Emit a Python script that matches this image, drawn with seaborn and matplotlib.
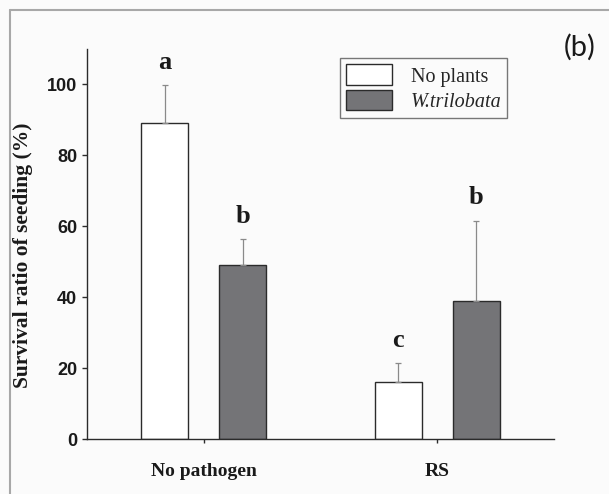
import numpy as np
import pandas as pd
import seaborn as sns
import matplotlib
matplotlib.use('Agg')
import matplotlib.pyplot as plt
from matplotlib.lines import Line2D

groups = ['No pathogen', 'RS']
treatments = ['No plants', 'W.trilobata']
no_plants_mean = [89.0, 16.0]
no_plants_sd = [10.8, 5.4]
wtril_mean = [49.0, 39.0]
wtril_sd = [7.3, 22.6]
no_plants_letters = ['a', 'c']
wtril_letters = ['b', 'b']
yticks = [0, 20, 40, 60, 80, 100]

df = pd.DataFrame({
    'group': groups * 2,
    'treatment': [treatments[0]] * 2 + [treatments[1]] * 2,
    'survival': no_plants_mean + wtril_mean,
    'sd': no_plants_sd + wtril_sd,
    'letter': no_plants_letters + wtril_letters,
})

sns.set_style('ticks')
plt.rcParams['font.family'] = ['Liberation Serif', 'DejaVu Serif']

bg = '#fbfbfb'
fig = plt.figure(figsize=(6.09, 4.94), dpi=100, facecolor=bg)
ax = fig.add_axes([87 / 609, 1 - 439 / 494, 467 / 609, 390 / 494])
ax.set_facecolor(bg)

sns.barplot(data=df, x='group', y='survival', hue='treatment',
            order=groups, hue_order=treatments,
            palette={'No plants': 'white', 'W.trilobata': '#737478'},
            width=0.667, gap=0.4, edgecolor='#2b2b2b', linewidth=1.0,
            errorbar=None, ax=ax)

# error bars (upper only) and significance letters
for cont, tr in zip(ax.containers, treatments):
    sub = df[df['treatment'] == tr].set_index('group')
    for bar in cont:
        xc = bar.get_x() + bar.get_width() / 2
        g = groups[int(round(xc))]
        m = sub.loc[g, 'survival']
        s = sub.loc[g, 'sd']
        ax.errorbar(xc, m, yerr=[[0], [s]], fmt='none', ecolor='#8a8a8a',
                    elinewidth=0.9, capsize=2.2, capthick=0.9, zorder=1)
        ax.text(xc, m + s + 6.5, sub.loc[g, 'letter'], ha='center', va='center',
                fontsize=19, fontweight='bold', color='#1a1a1a')

ax.set_xlim(-0.5, 1.5)
ax.set_ylim(0, 110)
ax.set_yticks(yticks)
ax.set_xlabel('')
ax.set_ylabel('Survival ratio of seeding (%)', fontsize=15.5, fontweight='bold',
              color='#1a1a1a')
ax.yaxis.set_label_coords(-0.116, 0.472)

sns.despine(ax=ax)
for sp in ['left', 'bottom']:
    ax.spines[sp].set_color('#2b2b2b')
    ax.spines[sp].set_linewidth(1.0)
ax.tick_params(axis='y', length=3.6, width=1.0, color='#2b2b2b', pad=3.4)
ax.tick_params(axis='x', length=3, width=1.0, color='#2b2b2b', pad=14)
for lab in ax.get_yticklabels():
    lab.set_family(['Liberation Sans', 'DejaVu Sans'])
    lab.set_fontweight('bold')
    lab.set_fontsize(13)
    lab.set_color('#1a1a1a')
for lab in ax.get_xticklabels():
    lab.set_fontweight('bold')
    lab.set_fontsize(14)
    lab.set_color('#1a1a1a')

# legend
old = ax.get_legend()
handles = old.legend_handles
labels = [t.get_text() for t in old.get_texts()]
old.remove()
for h in handles:
    h.set_edgecolor('#2b2b2b')
    h.set_linewidth(1.0)
leg = ax.legend(handles, labels, loc='upper left', bbox_to_anchor=(0.542, 0.976),
                borderaxespad=0, fontsize=14.5, frameon=True, fancybox=False,
                handlelength=2.3, handleheight=1.2, handletextpad=0.9,
                labelspacing=0.15, borderpad=0.3)
leg.get_frame().set_edgecolor('#777777')
leg.get_frame().set_linewidth(1.0)
leg.get_frame().set_facecolor(bg)
leg.get_frame().set_alpha(1)
leg.get_texts()[1].set_fontstyle('italic')

fig.text(580 / 609, 1 - 47 / 494, '(b)', fontsize=21, family=['Lato', 'DejaVu Sans'],
         ha='center', va='center', color='#1a1a1a')

# outer frame lines
fig.add_artist(Line2D([10 / 609, 10 / 609], [0, 1 - 10 / 494], transform=fig.transFigure,
                      color='#a8a8a8', lw=1.5))
fig.add_artist(Line2D([10 / 609, 1], [1 - 10 / 494, 1 - 10 / 494], transform=fig.transFigure,
                      color='#a8a8a8', lw=1.5))

fig.savefig('out.png', dpi=100, facecolor=bg)
